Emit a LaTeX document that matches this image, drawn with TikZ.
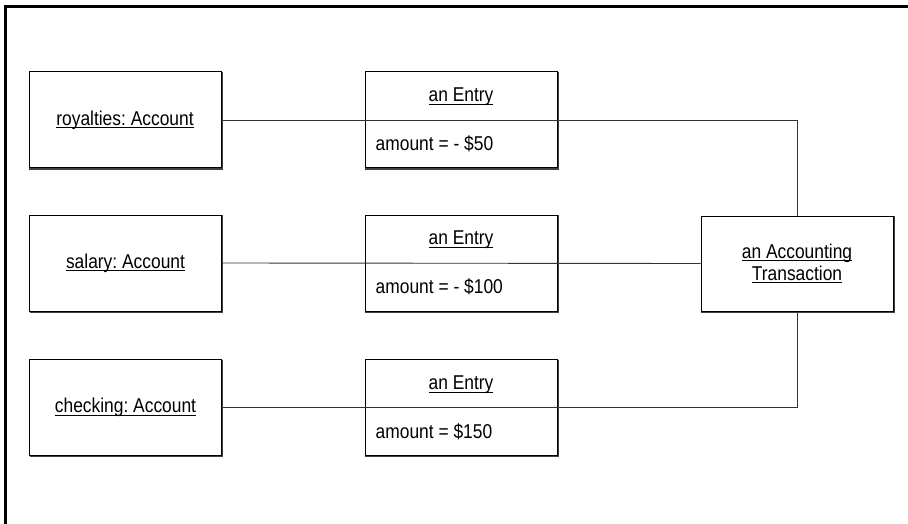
\documentclass[tikz,border=0pt]{standalone}
\usepackage{fontspec}
\setmainfont[FakeStretch=0.87]{Liberation Sans}
\frenchspacing
\newcommand{\ulx}[1]{\setbox0\hbox{#1}\rlap{\rule[-3.2pt]{\wd0}{0.9pt}}\box0}
\tikzset{
  obj/.style={draw=black, line width=1pt, minimum width=192pt, minimum height=96pt, inner sep=0pt, fill=white},
  shadowline/.style={draw=black!75, line width=1.2pt},
  conn/.style={draw=black!80, line width=0.9pt},
  frame/.style={draw=black, line width=3pt},
  lbl/.style={inner sep=0pt, font=\fontsize{20}{22}\selectfont}
}
\begin{document}
\frenchspacing
\begin{tikzpicture}[x=1pt,y=-1pt]
\useasboundingbox (0,0) rectangle (908,524);
\clip (0,0) rectangle (908,524);
\fill[white] (0,0) rectangle (908,524);
\draw[frame] (5,560) -- (5,7) -- (940,7);

\node[obj, minimum height=95pt] (tx) at (797,263.5) {};
\node[obj] (roy) at (125,120) {};
\node[obj] (sal) at (125.5,263) {};
\node[obj] (chk) at (125.5,407.5) {};
\node[obj] (e1) at (461,120) {};
\node[obj] (e2) at (461,263) {};
\node[obj] (e3) at (461,407.5) {};

\draw[conn] (roy.east) -- (tx.north |- roy.east) -- (tx.north);
\draw[conn] (sal.east) -- (tx.west);
\draw[conn] (chk.east) -- (tx.south |- chk.east) -- (tx.south);

\foreach \n in {roy,sal,chk,e1,e2,e3,tx}{
  \draw[shadowline] ([xshift=0.6pt,yshift=-0.5pt]\n.north east) -- ([xshift=0.6pt,yshift=-0.6pt]\n.south east) -- ([xshift=0.5pt,yshift=-0.6pt]\n.south west);
}

\node[lbl] (roylbl) at (roy.center) {\ulx{royalties: Account}};
\node[lbl] (sallbl) at (sal.center) {\ulx{salary: Account}};
\node[lbl] (chklbl) at (chk.center) {\ulx{checking: Account}};

\node[lbl] (e1t) at ([yshift=23pt]e1.center) {\ulx{an Entry}};
\node[lbl] (e2t) at ([yshift=23pt]e2.center) {\ulx{an Entry}};
\node[lbl] (e3t) at ([yshift=23pt]e3.center) {\ulx{an Entry}};

\node[lbl, anchor=west] (e1a) at ([xshift=11pt,yshift=-24pt]e1.west) {amount = - \$50};
\node[lbl, anchor=west] (e2a) at ([xshift=11pt,yshift=-24pt]e2.west) {amount = - \$100};
\node[lbl, anchor=west] (e3a) at ([xshift=11pt,yshift=-24pt]e3.west) {amount = \$150};

\node[lbl, align=center] (txlbl) at (tx.center) {\ulx{an Accounting}\\\ulx{Transaction}};
\end{tikzpicture}
\end{document}
